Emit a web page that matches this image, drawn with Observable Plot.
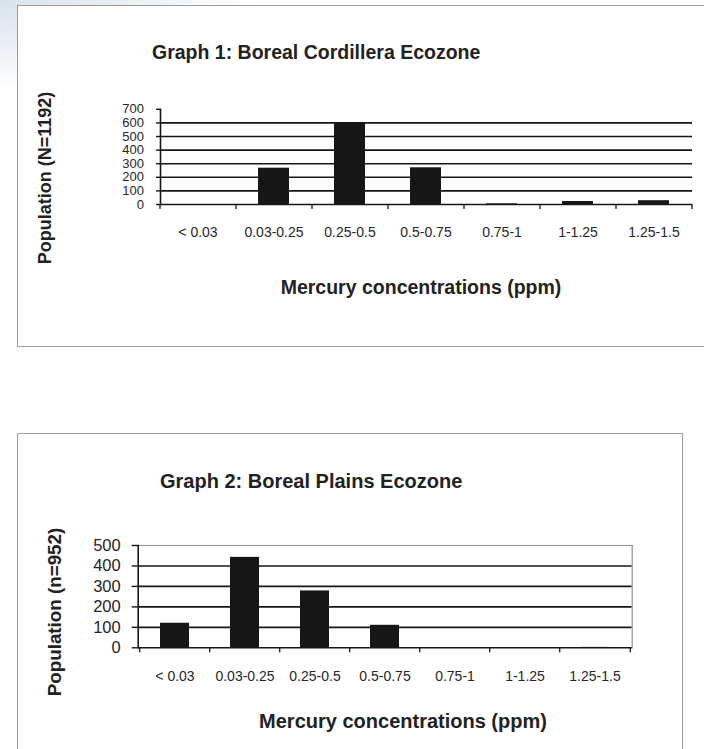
<!DOCTYPE html>
<html>
<head>
<meta charset="utf-8">
<script src="https://cdn.jsdelivr.net/npm/d3@7"></script>
<script src="https://cdn.jsdelivr.net/npm/@observablehq/plot@0.6"></script>
<style>
  html, body { margin: 0; padding: 0; }
  body {
    width: 704px; height: 749px; overflow: hidden; position: relative;
    background: #fff;
    font-family: "Liberation Sans", Arial, sans-serif;
  }
  #bg {
    position: absolute; left: 0; top: 0; width: 704px; height: 120px;
    background: radial-gradient(ellipse 260px 90px at 0 0, #d9e2eb 0%, #e9eef3 45%, rgba(255,255,255,0) 100%);
  }
  .box { position: absolute; background: #fff; border: 1px solid #9c9c9c; }
  .chart { position: absolute; left: 0; }
  .t { position: absolute; white-space: nowrap; color: #222; line-height: 1; }
  .title { font-weight: bold; transform: translate(0, -50%); }
  .xt { font-weight: bold; transform: translate(-50%, -50%); }
  .yt { font-weight: bold; transform: translate(-50%, -50%) rotate(-90deg); }
  #c1 g[aria-label="y-axis tick label"] { font-size: 13px; }
  #c2 g[aria-label="y-axis tick label"] { font-size: 16.5px; }
  .chart g[aria-label="x-axis tick label"] { font-size: 14px; }
</style>
</head>
<body>
<div id="bg"></div>
<div class="box" style="left:17px; top:5px; width:720px; height:340px;"></div>
<div class="box" style="left:17px; top:433px; width:664px; height:340px;"></div>

<div id="c1" class="chart" style="top:0px;"></div>
<div id="c2" class="chart" style="top:420px;"></div>

<div class="t title" style="left:152px; top:53px; font-size:19.5px;">Graph 1: Boreal Cordillera Ecozone</div>
<div class="t yt" style="left:45px; top:178px; font-size:18px;">Population (N=1192)</div>
<div class="t xt" style="left:421px; top:288px; font-size:19.5px;">Mercury concentrations (ppm)</div>

<div class="t title" style="left:160px; top:481px; font-size:20px;">Graph 2: Boreal Plains Ecozone</div>
<div class="t yt" style="left:55px; top:612px; font-size:18.8px;">Population (n=952)</div>
<div class="t xt" style="left:403px; top:721px; font-size:20px;">Mercury concentrations (ppm)</div>

<script>
// ---- data ----
const categories = ["< 0.03", "0.03-0.25", "0.25-0.5", "0.5-0.75", "0.75-1", "1-1.25", "1.25-1.5"];
const cordilleraValues = [0, 267, 600, 270, 5, 22, 28];   // N = 1192
const plainsValues = [120, 442, 278, 110, 0, 0, 2];       // n = 952
const yTicks1 = [0, 100, 200, 300, 400, 500, 600, 700];
const gridLines1 = [100, 200, 300, 400, 500, 600];
const yTicks2 = [0, 100, 200, 300, 400, 500];
const gridLines2 = [100, 200, 300, 400];

const cordillera = categories.map((c, i) => ({cat: c, value: cordilleraValues[i]}));
const plains = categories.map((c, i) => ({cat: c, value: plainsValues[i]}));

const ink = "#161616";
const textColor = "#262626";

function makeChart({data, yTicks, grid, yMax, width, height, ml, mr, mt, mb, yTickSize, yPad, framed}) {
  const step = (width - ml - mr) / categories.length;
  const marks = [
    Plot.ruleY(grid, {stroke: ink, strokeWidth: 1.6}),
    framed ? Plot.frame({anchor: "top", stroke: "#8f8f8f", strokeWidth: 1.2}) : null,
    framed ? Plot.frame({anchor: "right", stroke: "#8f8f8f", strokeWidth: 1.2}) : null,
    Plot.barY(data, {x: "cat", y: "value", fill: ink}),
    Plot.ruleY([0], {stroke: ink, strokeWidth: 1.6}),
    Plot.frame({anchor: "left", stroke: ink, strokeWidth: 1.6}),
    Plot.axisY({ticks: yTicks, tickSize: yTickSize, tickPadding: yPad, stroke: ink, strokeWidth: 1.4, color: textColor}),
    // category boundary ticks
    Plot.axisX({ticks: categories, tickSize: 5, tickFormat: () => "", dx: -step / 2, stroke: ink, strokeWidth: 1.3}),
    Plot.axisX({ticks: [categories[categories.length - 1]], tickSize: 5, tickFormat: () => "", dx: step / 2, stroke: ink, strokeWidth: 1.3}),
    // category labels
    Plot.axisX({tickSize: 0, tickPadding: 23, color: textColor})
  ].filter(Boolean);
  return Plot.plot({
    width, height,
    marginLeft: ml, marginRight: mr, marginTop: mt, marginBottom: mb,
    style: {background: "transparent", fontFamily: "'Liberation Sans', Arial, sans-serif", fontSize: "14px", color: textColor, overflow: "visible"},
    x: {domain: categories, paddingInner: 0.59, paddingOuter: 0.295, axis: null, label: null},
    y: {domain: [0, yMax], axis: null, label: null},
    marks
  });
}

document.getElementById("c1").appendChild(makeChart({
  data: cordillera, yTicks: yTicks1, grid: gridLines1, yMax: 700,
  width: 704, height: 300, ml: 160, mr: 12, mt: 108.8, mb: 96,
  yTickSize: 4, yPad: 12.5, framed: false
}));

document.getElementById("c2").appendChild(makeChart({
  data: plains, yTicks: yTicks2, grid: gridLines2, yMax: 500,
  width: 704, height: 300, ml: 137.7, mr: 72.3, mt: 125, mb: 72.7,
  yTickSize: 6, yPad: 11.5, framed: true
}));
</script>
</body>
</html>
